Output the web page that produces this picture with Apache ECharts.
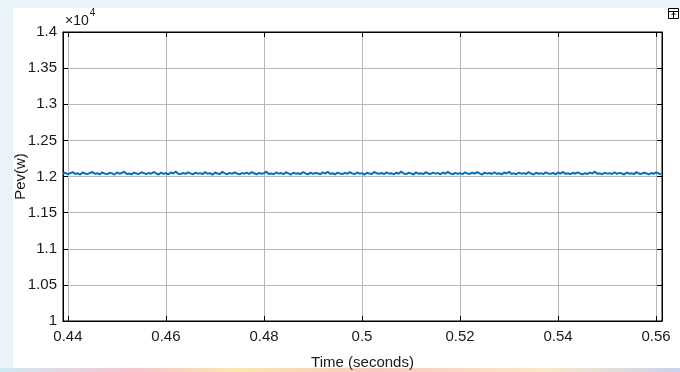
<!DOCTYPE html>
<html>
<head>
<meta charset="utf-8">
<script src="https://cdn.jsdelivr.net/npm/echarts@6/dist/echarts.min.js"></script>
<style>
  html, body { margin: 0; padding: 0; background: #e8f4f8; }
  #main { width: 680px; height: 372px; }
</style>
</head>
<body>
<div id="main"></div>
<script>
// sample times (s)
const time = [
  0.4390, 0.4395, 0.4400, 0.4405, 0.4410, 0.4415, 0.4420, 0.4425, 0.4430, 0.4435,
  0.4440, 0.4445, 0.4450, 0.4455, 0.4460, 0.4465, 0.4470, 0.4475, 0.4480, 0.4485,
  0.4490, 0.4495, 0.4500, 0.4505, 0.4510, 0.4515, 0.4520, 0.4525, 0.4530, 0.4535,
  0.4540, 0.4545, 0.4550, 0.4555, 0.4560, 0.4565, 0.4570, 0.4575, 0.4580, 0.4585,
  0.4590, 0.4595, 0.4600, 0.4605, 0.4610, 0.4615, 0.4620, 0.4625, 0.4630, 0.4635,
  0.4640, 0.4645, 0.4650, 0.4655, 0.4660, 0.4665, 0.4670, 0.4675, 0.4680, 0.4685,
  0.4690, 0.4695, 0.4700, 0.4705, 0.4710, 0.4715, 0.4720, 0.4725, 0.4730, 0.4735,
  0.4740, 0.4745, 0.4750, 0.4755, 0.4760, 0.4765, 0.4770, 0.4775, 0.4780, 0.4785,
  0.4790, 0.4795, 0.4800, 0.4805, 0.4810, 0.4815, 0.4820, 0.4825, 0.4830, 0.4835,
  0.4840, 0.4845, 0.4850, 0.4855, 0.4860, 0.4865, 0.4870, 0.4875, 0.4880, 0.4885,
  0.4890, 0.4895, 0.4900, 0.4905, 0.4910, 0.4915, 0.4920, 0.4925, 0.4930, 0.4935,
  0.4940, 0.4945, 0.4950, 0.4955, 0.4960, 0.4965, 0.4970, 0.4975, 0.4980, 0.4985,
  0.4990, 0.4995, 0.5000, 0.5005, 0.5010, 0.5015, 0.5020, 0.5025, 0.5030, 0.5035,
  0.5040, 0.5045, 0.5050, 0.5055, 0.5060, 0.5065, 0.5070, 0.5075, 0.5080, 0.5085,
  0.5090, 0.5095, 0.5100, 0.5105, 0.5110, 0.5115, 0.5120, 0.5125, 0.5130, 0.5135,
  0.5140, 0.5145, 0.5150, 0.5155, 0.5160, 0.5165, 0.5170, 0.5175, 0.5180, 0.5185,
  0.5190, 0.5195, 0.5200, 0.5205, 0.5210, 0.5215, 0.5220, 0.5225, 0.5230, 0.5235,
  0.5240, 0.5245, 0.5250, 0.5255, 0.5260, 0.5265, 0.5270, 0.5275, 0.5280, 0.5285,
  0.5290, 0.5295, 0.5300, 0.5305, 0.5310, 0.5315, 0.5320, 0.5325, 0.5330, 0.5335,
  0.5340, 0.5345, 0.5350, 0.5355, 0.5360, 0.5365, 0.5370, 0.5375, 0.5380, 0.5385,
  0.5390, 0.5395, 0.5400, 0.5405, 0.5410, 0.5415, 0.5420, 0.5425, 0.5430, 0.5435,
  0.5440, 0.5445, 0.5450, 0.5455, 0.5460, 0.5465, 0.5470, 0.5475, 0.5480, 0.5485,
  0.5490, 0.5495, 0.5500, 0.5505, 0.5510, 0.5515, 0.5520, 0.5525, 0.5530, 0.5535,
  0.5540, 0.5545, 0.5550, 0.5555, 0.5560, 0.5565, 0.5570, 0.5575, 0.5580, 0.5585,
  0.5590, 0.5595, 0.5600, 0.5605, 0.5610
];

// Pev in watts (noisy band around 1.204e4)
const pev = [
  12038, 12052, 12031, 12046, 12060, 12035, 12044, 12027, 12055, 12041,
  12033, 12049, 12062, 12037, 12045, 12029, 12058, 12040, 12034, 12051,
  12043, 12026, 12057, 12039, 12048, 12066, 12036, 12042, 12030, 12054,
  12041, 12035, 12059, 12047, 12032, 12050, 12038, 12063, 12044, 12028,
  12053, 12037, 12045, 12031, 12056, 12042, 12068, 12039, 12034, 12049,
  12036, 12058, 12043, 12029, 12052, 12040, 12046, 12033, 12061, 12038,
  12047, 12025, 12055, 12041, 12035, 12064, 12044, 12032, 12050, 12037,
  12057, 12042, 12030, 12048, 12039, 12053, 12034, 12060, 12045, 12028,
  12051, 12038, 12044, 12067, 12036, 12042, 12031, 12056, 12040, 12047,
  12033, 12059, 12043, 12027, 12052, 12039, 12046, 12035, 12062, 12041,
  12030, 12054, 12037, 12049, 12044, 12032, 12058, 12040, 12065, 12036,
  12045, 12029, 12053, 12041, 12034, 12050, 12038, 12061, 12043, 12031,
  12056, 12039, 12047, 12026, 12052, 12042, 12035, 12063, 12044, 12037,
  12049, 12032, 12058, 12040, 12046, 12030, 12054, 12038, 12069, 12041,
  12034, 12051, 12043, 12028, 12057, 12039, 12045, 12033, 12060, 12042,
  12036, 12053, 12040, 12047, 12031, 12055, 12038, 12064, 12044, 12029,
  12050, 12037, 12046, 12032, 12058, 12041, 12035, 12052, 12039, 12061,
  12043, 12027, 12054, 12040, 12048, 12034, 12059, 12037, 12045, 12030,
  12056, 12042, 12066, 12036, 12044, 12031, 12053, 12039, 12047, 12035,
  12060, 12041, 12028, 12052, 12038, 12046, 12033, 12057, 12043, 12037,
  12049, 12030, 12055, 12040, 12063, 12036, 12045, 12032, 12051, 12039,
  12058, 12042, 12029, 12047, 12035, 12054, 12041, 12067, 12038, 12044,
  12031, 12052, 12040, 12046, 12034, 12059, 12037, 12050, 12042, 12028,
  12055, 12039, 12045, 12033, 12061, 12041, 12036, 12053, 12044, 12030,
  12048, 12038, 12057, 12042, 12035
];

const xTicks = [0.44, 0.46, 0.48, 0.5, 0.52, 0.54, 0.56];
const xMin = 0.439, xMax = 0.5612;
const yMin = 10000, yMax = 14000, yStep = 500;

const font = '"Liberation Sans Narrow", "Liberation Sans", Arial, sans-serif';

var myChart = echarts.init(document.getElementById('main'));

var tickStyle = { show: true, inside: true, length: 5, lineStyle: { color: '#000', width: 1 } };

var option = {
  backgroundColor: 'transparent',
  animation: false,
  textStyle: { fontFamily: font },
  graphic: [
    // white figure area over the faint page background
    { type: 'rect', z: -10, shape: { x: 13, y: 8, width: 667, height: 360 }, style: { fill: '#ffffff' } },
    {
      type: 'rect', z: -10, shape: { x: 0, y: 368, width: 680, height: 4 },
      style: {
        fill: new echarts.graphic.LinearGradient(0, 0, 1, 0, [
          { offset: 0, color: '#cfe9f3' }, { offset: 0.2, color: '#f6c6cf' },
          { offset: 0.35, color: '#fbe7b0' }, { offset: 0.55, color: '#f7c9c0' },
          { offset: 0.8, color: '#fce8c8' }, { offset: 1, color: '#c9d3ee' }
        ])
      }
    },
    {
      type: 'text', left: 65, top: 8,
      style: {
        text: '{a|\u00d710}{b|4}',
        rich: {
          a: { fontFamily: font, fontSize: 14, fill: '#1a1a1a', padding: [6, 0, 0, 0] },
          b: { fontFamily: font, fontSize: 10, fill: '#1a1a1a', verticalAlign: 'top', padding: [0, 0, 8, 1] }
        }
      }
    },
    // export icon at the top right
    { type: 'rect', shape: { x: 668.5, y: 8.5, width: 10, height: 10 }, style: { fill: '#fff', stroke: '#000', lineWidth: 1 } },
    { type: 'line', shape: { x1: 669, y1: 11.5, x2: 678, y2: 11.5 }, style: { stroke: '#000', lineWidth: 1 } },
    { type: 'line', shape: { x1: 673.5, y1: 12, x2: 673.5, y2: 18 }, style: { stroke: '#000', lineWidth: 1 } },
    { type: 'polyline', shape: { points: [[671.5, 15], [673.5, 13], [675.5, 15]] }, style: { stroke: '#000', lineWidth: 1, fill: null } }
  ],
  grid: {
    left: 63, right: 18, top: 32, bottom: 51,
    outerBoundsMode: 'none', containLabel: false,
    show: true, borderColor: '#000', borderWidth: 1, backgroundColor: '#fff'
  },
  xAxis: [
    {
      type: 'value', min: xMin, max: xMax,
      name: 'Time (seconds)', nameLocation: 'middle', nameGap: 34,
      nameTextStyle: { fontFamily: font, fontSize: 15, color: '#1a1a1a' },
      axisLine: { show: true, lineStyle: { color: '#000' } },
      axisTick: Object.assign({ customValues: xTicks }, tickStyle),
      axisLabel: { customValues: xTicks, margin: 8, fontFamily: font, fontSize: 15, color: '#1a1a1a', formatter: v => String(+v.toFixed(2)) },
      splitLine: { show: true, lineStyle: { color: '#b8b8b8', width: 1 } }
    },
    {
      type: 'value', min: xMin, max: xMax, position: 'top',
      axisLine: { show: true, lineStyle: { color: '#000' } },
      axisTick: Object.assign({ customValues: xTicks }, tickStyle),
      axisLabel: { show: false, customValues: xTicks },
      splitLine: { show: false }
    }
  ],
  yAxis: [
    {
      type: 'value', min: yMin, max: yMax, interval: yStep,
      name: 'Pev(w)', nameLocation: 'middle', nameGap: 35, nameMoveOverlap: false,
      nameTextStyle: { fontFamily: font, fontSize: 15, color: '#1a1a1a' },
      axisLine: { show: true, lineStyle: { color: '#000' } },
      axisTick: tickStyle,
      axisLabel: { margin: 6, fontFamily: font, fontSize: 15, color: '#1a1a1a', formatter: v => String(+(v / 10000).toFixed(2)) },
      splitLine: { show: true, lineStyle: { color: '#b8b8b8', width: 1 } }
    },
    {
      type: 'value', min: yMin, max: yMax, interval: yStep, position: 'right',
      axisLine: { show: true, lineStyle: { color: '#000' } },
      axisTick: tickStyle,
      axisLabel: { show: false },
      splitLine: { show: false }
    }
  ],
  series: [
    {
      name: 'Pev',
      type: 'line',
      data: time.map((t, i) => [t, pev[i]]),
      showSymbol: false,
      lineStyle: { color: '#0072BD', width: 2 },
      clip: true
    }
  ]
};

myChart.setOption(option);
</script>
</body>
</html>
